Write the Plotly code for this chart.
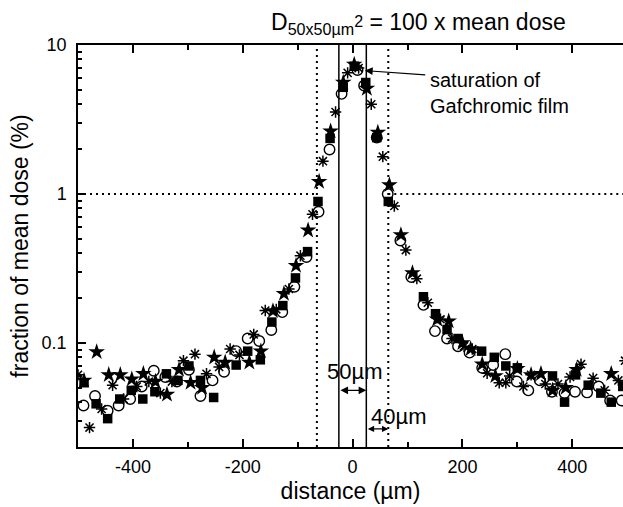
import math
import plotly.graph_objects as go

# ---- data (distance in µm, fraction of mean dose in %) ----
sq_x = [-489, -467, -446, -424, -403, -382, -360, -339, -318, -298, -277, -253, -212, -191, -168,
        -147, -127, -104, -82, -63, -41, -17, 3, 24, 44, 65, 129, 151, 172, 192, 235, 258, 279,
        300, 364, 386, 406, 429, 452, 471, 492]
sq_y = [0.054, 0.039, 0.031, 0.042, 0.048, 0.042, 0.047, 0.062, 0.056, 0.070, 0.056, 0.043, 0.071,
        0.088, 0.077, 0.138, 0.178, 0.273, 0.41, 0.89, 2.36, 5.2, 7.2, 5.6, 2.39, 0.89, 0.204, 0.157,
        0.123, 0.107, 0.088, 0.080, 0.070, 0.068, 0.060, 0.040, 0.061, 0.052, 0.046, 0.040, 0.051]

ci_x = [-490, -469, -446, -426, -405, -384, -362, -341, -320, -298, -277, -255, -234, -212, -191,
        -170, -148, -128, -106, -84, -62, -42, -20, 9, 21, 44, 64, 87, 107, 129, 150, 172, 192, 213,
        236, 256, 278, 299, 320, 341, 363, 386, 405, 427, 448, 469, 490]
ci_y = [0.038, 0.044, 0.035, 0.038, 0.042, 0.051, 0.065, 0.059, 0.055, 0.066, 0.044, 0.056, 0.064,
        0.088, 0.107, 0.103, 0.122, 0.161, 0.238, 0.377, 0.76, 1.99, 4.7, 6.8, 5.35, 2.39, 1.0, 0.487,
        0.277, 0.18, 0.12, 0.107, 0.095, 0.086, 0.068, 0.071, 0.084, 0.055, 0.048, 0.056, 0.047,
        0.046, 0.047, 0.0465, 0.051, 0.041, 0.041]

st_x = [-489, -466, -444, -423, -402, -381, -359, -338, -316, -295, -274, -252, -232, -188, -167,
        -145, -125, -103, -81, -61, -40, -17, 3, 26, 46, 67, 88, 109, 154, 175, 200, 215, 236, 260,
        300, 325, 343, 364, 388, 408, 471, 495]
st_y = [0.056, 0.087, 0.061, 0.061, 0.057, 0.062, 0.055, 0.045, 0.066, 0.054, 0.050, 0.080, 0.074,
        0.074, 0.088, 0.164, 0.214, 0.33, 0.57, 1.21, 2.64, 5.6, 7.4, 5.1, 2.59, 1.15, 0.53, 0.295,
        0.144, 0.14, 0.10, 0.091, 0.072, 0.060, 0.067, 0.061, 0.062, 0.048, 0.050, 0.066, 0.062, 0.053]

as_x = [-500, -479, -457, -437, -417, -393, -371, -350, -329, -308, -287, -266, -243, -223, -206,
        -180, -159, -139, -116, -95, -73, -54, -31, -9, 11, 34, 55, 76, 97, 117, 137, 160, 181, 203,
        218, 245, 267, 279, 286, 311, 325, 351, 374, 396, 416, 438, 459, 484, 496]
as_y = [0.061, 0.027, 0.036, 0.052, 0.042, 0.051, 0.055, 0.046, 0.055, 0.076, 0.084, 0.062, 0.069,
        0.091, 0.083, 0.114, 0.165, 0.168, 0.23, 0.385, 0.73, 1.66, 3.55, 6.5, 7.0, 4.0, 1.78, 0.83,
        0.42, 0.27, 0.186, 0.144, 0.107, 0.095, 0.091, 0.0625, 0.054, 0.054, 0.06, 0.051, 0.061,
        0.053, 0.053, 0.059, 0.072, 0.058, 0.048, 0.056, 0.076]

beam_edges = [-25, 25]        # solid lines (50 µm beam)
valley_edges = [-65, 65]      # dotted lines
y_min, y_max = 0.02, 10
x_min, x_max = -500, 492.4

x_ticks = [-400, -200, 0, 200, 400]
x_minor = [-300, -100, 100, 300]
y_ticks = [0.1, 1, 10]
y_ticktext = ["0.1", "1", "10"]
y_minor = [0.02, 0.03, 0.04, 0.05, 0.06, 0.07, 0.08, 0.09,
           0.2, 0.3, 0.4, 0.5, 0.6, 0.7, 0.8, 0.9,
           2, 3, 4, 5, 6, 7, 8, 9]

FONT = "Liberation Sans, Arial, Helvetica, sans-serif"
DOT = "2px,4px"

fig = go.Figure()

# guide lines
for xv in beam_edges:
    fig.add_trace(go.Scatter(x=[xv, xv], y=[y_min, y_max], mode="lines",
                             line=dict(color="black", width=1.5), hoverinfo="skip", showlegend=False))
for xv in valley_edges:
    fig.add_trace(go.Scatter(x=[xv, xv], y=[y_min, y_max], mode="lines",
                             line=dict(color="black", width=2, dash=DOT), hoverinfo="skip", showlegend=False))
fig.add_trace(go.Scatter(x=[x_min, valley_edges[0]], y=[1, 1], mode="lines",
                         line=dict(color="black", width=2, dash=DOT), hoverinfo="skip", showlegend=False))
fig.add_trace(go.Scatter(x=[valley_edges[1], 500], y=[1, 1], mode="lines",
                         line=dict(color="black", width=2, dash=DOT), hoverinfo="skip", showlegend=False))

# data series
fig.add_trace(go.Scatter(x=sq_x, y=sq_y, mode="markers", showlegend=False,
                         marker=dict(symbol="square", size=9.5, color="black", line=dict(width=0))))
fig.add_trace(go.Scatter(x=ci_x, y=ci_y, mode="markers", showlegend=False,
                         marker=dict(symbol="circle-open", size=10.5, color="black", line=dict(width=1.4, color="black"))))
fig.add_trace(go.Scatter(x=st_x, y=st_y, mode="markers", showlegend=False,
                         marker=dict(symbol="star", size=12.5, color="black", line=dict(width=0))))
fig.add_trace(go.Scatter(x=as_x, y=as_y, mode="markers", showlegend=False,
                         marker=dict(symbol="asterisk-open", size=9.5, color="black", line=dict(width=1.5, color="black"))))

lg = math.log10
annotations = [
    dict(text='D<sub>50x50µm</sub><span style="font-size:16px;baseline-shift:3px">2</span> = 100 x mean dose',
         xref="x", yref="paper",
         x=120, y=1.0547, xanchor="center", yanchor="middle", showarrow=False,
         font=dict(size=23, color="black", family=FONT)),
    dict(text="saturation of<br>Gafchromic film", xref="x", yref="y", x=137, y=0.681,
         xanchor="left", yanchor="middle", align="left", showarrow=False,
         font=dict(size=20, color="black", family=FONT)),
    dict(text="", xref="x", yref="y", x=22.4, y=0.828, axref="x", ayref="y", ax=135, ay=0.799,
         showarrow=True, arrowhead=2, arrowsize=1.3, arrowwidth=1.2, arrowcolor="black"),
    dict(text="50µm", xref="x", yref="y", x=4, y=-1.193, xanchor="center", yanchor="middle",
         showarrow=False, font=dict(size=22, color="black", family=FONT)),
    dict(text="40µm", xref="x", yref="y", x=83, y=-1.495, xanchor="center", yanchor="middle",
         showarrow=False, font=dict(size=22, color="black", family=FONT)),
    dict(text="", xref="x", yref="y", x=beam_edges[1], y=-1.3186, axref="x", ayref="y",
         ax=beam_edges[0], ay=-1.3186, showarrow=True, arrowside="end+start",
         arrowhead=2, startarrowhead=2, arrowsize=1.1, startarrowsize=1.1, arrowwidth=1.4, arrowcolor="black"),
    dict(text="", xref="x", yref="y", x=valley_edges[1], y=-1.5775, axref="x", ayref="y",
         ax=beam_edges[1], ay=-1.5775, showarrow=True, arrowside="end+start",
         arrowhead=2, startarrowhead=2, arrowsize=0.9, startarrowsize=0.9, arrowwidth=1.4, arrowcolor="black"),
]

fig.update_layout(
    width=623, height=507,
    margin=dict(l=78, r=0, t=45, b=60, autoexpand=False),
    paper_bgcolor="white", plot_bgcolor="white",
    font=dict(family=FONT, color="black", size=18),
    annotations=annotations,
    xaxis=dict(range=[x_min, x_max], showgrid=False, zeroline=False, showline=True,
               linecolor="black", linewidth=1.5, mirror="ticks",
               ticks="inside", ticklen=8, tickwidth=1.5, tickcolor="black",
               tickvals=x_ticks, ticktext=[str(v) for v in x_ticks],
               tickfont=dict(size=18, family=FONT), ticklabelstandoff=3,
               minor=dict(ticks="inside", ticklen=5, tickwidth=1.5, tickcolor="black",
                          tickvals=x_minor, showgrid=False),
               title=dict(text="distance (µm)", font=dict(size=23, family=FONT), standoff=7)),
    yaxis=dict(type="log", range=[lg(y_min), lg(y_max)], showgrid=False, zeroline=False,
               showline=True, linecolor="black", linewidth=1.5, mirror=False,
               ticks="inside", ticklen=8, tickwidth=1.5, tickcolor="black",
               tickvals=y_ticks, ticktext=y_ticktext, tickfont=dict(size=18, family=FONT),
               ticklabelstandoff=6,
               minor=dict(ticks="inside", ticklen=4, tickwidth=1.5, tickcolor="black",
                          tickvals=y_minor, showgrid=False),
               title=dict(text="fraction of mean dose (%)", font=dict(size=23, family=FONT), standoff=7)),
)

fig.write_html("out.html")
